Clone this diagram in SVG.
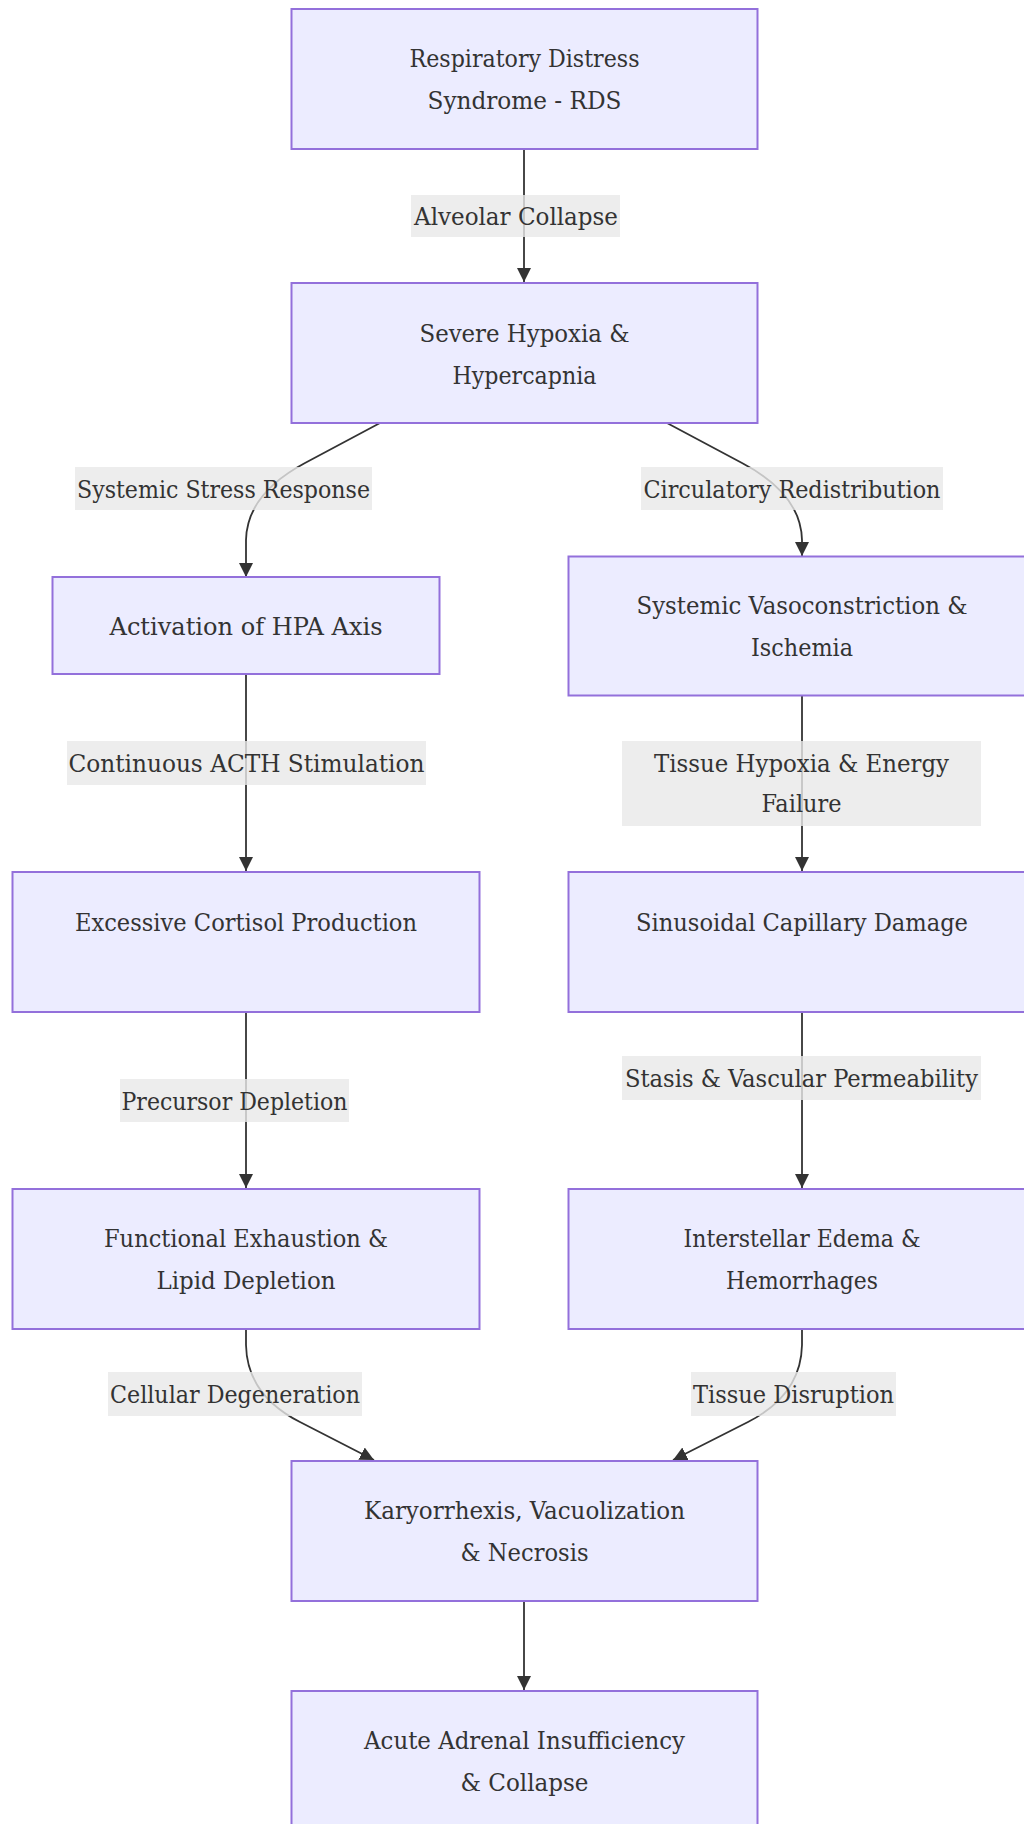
<svg xmlns="http://www.w3.org/2000/svg" width="1024" height="1824" viewBox="0 0 1024 1824">
<defs>
<style>
.node rect{fill:#ECECFF;stroke:#9370DB;stroke-width:2}
.node text,.elabel text{font-family:"DejaVu Serif Condensed","DejaVu Serif",serif;font-size:25px;fill:#333333;text-anchor:middle}
.edge{fill:none;stroke:#333333;stroke-width:1.8}
.elabel rect{fill:#e8e8e8;fill-opacity:0.8}
</style>
<marker id="arrow" viewBox="0 0 10 10" refX="10" refY="5" markerUnits="userSpaceOnUse" markerWidth="14" markerHeight="15" orient="auto">
<path d="M0,0 L10,5 L0,10 z" fill="#333333"/>
</marker>
</defs>
<rect width="1024" height="1824" fill="#ffffff"/>
<g id="connectors">
<path class="edge" d="M524,150 L524,282" marker-end="url(#arrow)"/>
<path class="edge" d="M380,423 L305,463 Q247,494 246,540 L246,577" marker-end="url(#arrow)"/>
<path class="edge" d="M667,423 L742,463 Q801,494 802,540 L802,556" marker-end="url(#arrow)"/>
<path class="edge" d="M246,674 L246,871" marker-end="url(#arrow)"/>
<path class="edge" d="M802,696 L802,871" marker-end="url(#arrow)"/>
<path class="edge" d="M246,1013 L246,1188" marker-end="url(#arrow)"/>
<path class="edge" d="M802,1013 L802,1188" marker-end="url(#arrow)"/>
<path class="edge" d="M246,1329 L246,1345 Q247,1395 300,1422 L374,1460" marker-end="url(#arrow)"/>
<path class="edge" d="M802,1329 L802,1345 Q801,1395 748,1422 L673,1460" marker-end="url(#arrow)"/>
<path class="edge" d="M524,1602 L524,1690" marker-end="url(#arrow)"/>
</g>
<g id="edge-labels">
<g class="elabel"><rect x="411" y="195" width="209" height="42"/><text x="516" y="225" textLength="204" lengthAdjust="spacingAndGlyphs">Alveolar Collapse</text></g>
<g class="elabel"><rect x="75" y="467" width="297" height="43"/><text x="223.5" y="497.5" textLength="293" lengthAdjust="spacingAndGlyphs">Systemic Stress Response</text></g>
<g class="elabel"><rect x="641" y="467" width="302" height="43"/><text x="792" y="497.5" textLength="297" lengthAdjust="spacingAndGlyphs">Circulatory Redistribution</text></g>
<g class="elabel"><rect x="67" y="741" width="359" height="44"/><text x="246.5" y="772" textLength="356" lengthAdjust="spacingAndGlyphs">Continuous ACTH Stimulation</text></g>
<g class="elabel"><rect x="622" y="741" width="359" height="85"/><text x="801.5" y="772" textLength="295" lengthAdjust="spacingAndGlyphs">Tissue Hypoxia &amp; Energy</text><text x="801.5" y="812" textLength="80" lengthAdjust="spacingAndGlyphs">Failure</text></g>
<g class="elabel"><rect x="120" y="1079" width="229" height="43"/><text x="234.5" y="1109.5" textLength="226" lengthAdjust="spacingAndGlyphs">Precursor Depletion</text></g>
<g class="elabel"><rect x="622" y="1056" width="359" height="44"/><text x="801.5" y="1087" textLength="353" lengthAdjust="spacingAndGlyphs">Stasis &amp; Vascular Permeability</text></g>
<g class="elabel"><rect x="108" y="1372" width="254" height="44"/><text x="235" y="1403" textLength="250" lengthAdjust="spacingAndGlyphs">Cellular Degeneration</text></g>
<g class="elabel"><rect x="691" y="1372" width="205" height="44"/><text x="793.5" y="1403" textLength="201" lengthAdjust="spacingAndGlyphs">Tissue Disruption</text></g>
</g>
<g id="n1" class="node"><rect x="291.5" y="9" width="466" height="140"/><text x="524.5" y="67" textLength="230" lengthAdjust="spacingAndGlyphs">Respiratory Distress</text><text x="524.5" y="109" textLength="194" lengthAdjust="spacingAndGlyphs">Syndrome - RDS</text></g>
<g id="n2" class="node"><rect x="291.5" y="283" width="466" height="140"/><text x="524.5" y="342" textLength="210" lengthAdjust="spacingAndGlyphs">Severe Hypoxia &amp;</text><text x="524.5" y="384" textLength="144" lengthAdjust="spacingAndGlyphs">Hypercapnia</text></g>
<g id="n3" class="node"><rect x="52.5" y="577" width="387" height="97"/><text x="246" y="635" textLength="273" lengthAdjust="spacingAndGlyphs">Activation of HPA Axis</text></g>
<g id="n4" class="node"><rect x="568.5" y="556.5" width="467" height="139"/><text x="802" y="614" textLength="331" lengthAdjust="spacingAndGlyphs">Systemic Vasoconstriction &amp;</text><text x="802" y="656" textLength="102" lengthAdjust="spacingAndGlyphs">Ischemia</text></g>
<g id="n5" class="node"><rect x="12.5" y="872" width="467" height="140"/><text x="246" y="931" textLength="342" lengthAdjust="spacingAndGlyphs">Excessive Cortisol Production</text></g>
<g id="n6" class="node"><rect x="568.5" y="872" width="467" height="140"/><text x="802" y="931" textLength="332" lengthAdjust="spacingAndGlyphs">Sinusoidal Capillary Damage</text></g>
<g id="n7" class="node"><rect x="12.5" y="1189" width="467" height="140"/><text x="246" y="1247" textLength="284" lengthAdjust="spacingAndGlyphs">Functional Exhaustion &amp;</text><text x="246" y="1289" textLength="179" lengthAdjust="spacingAndGlyphs">Lipid Depletion</text></g>
<g id="n8" class="node"><rect x="568.5" y="1189" width="467" height="140"/><text x="802" y="1247" textLength="237" lengthAdjust="spacingAndGlyphs">Interstellar Edema &amp;</text><text x="802" y="1289" textLength="152" lengthAdjust="spacingAndGlyphs">Hemorrhages</text></g>
<g id="n9" class="node"><rect x="291.5" y="1461" width="466" height="140"/><text x="524.5" y="1519" textLength="321" lengthAdjust="spacingAndGlyphs">Karyorrhexis, Vacuolization</text><text x="524.5" y="1561" textLength="128" lengthAdjust="spacingAndGlyphs">&amp; Necrosis</text></g>
<g id="n10" class="node"><rect x="291.5" y="1691" width="466" height="140"/><text x="524.5" y="1749" textLength="321" lengthAdjust="spacingAndGlyphs">Acute Adrenal Insufficiency</text><text x="524.5" y="1791" textLength="128" lengthAdjust="spacingAndGlyphs">&amp; Collapse</text></g>
</svg>
